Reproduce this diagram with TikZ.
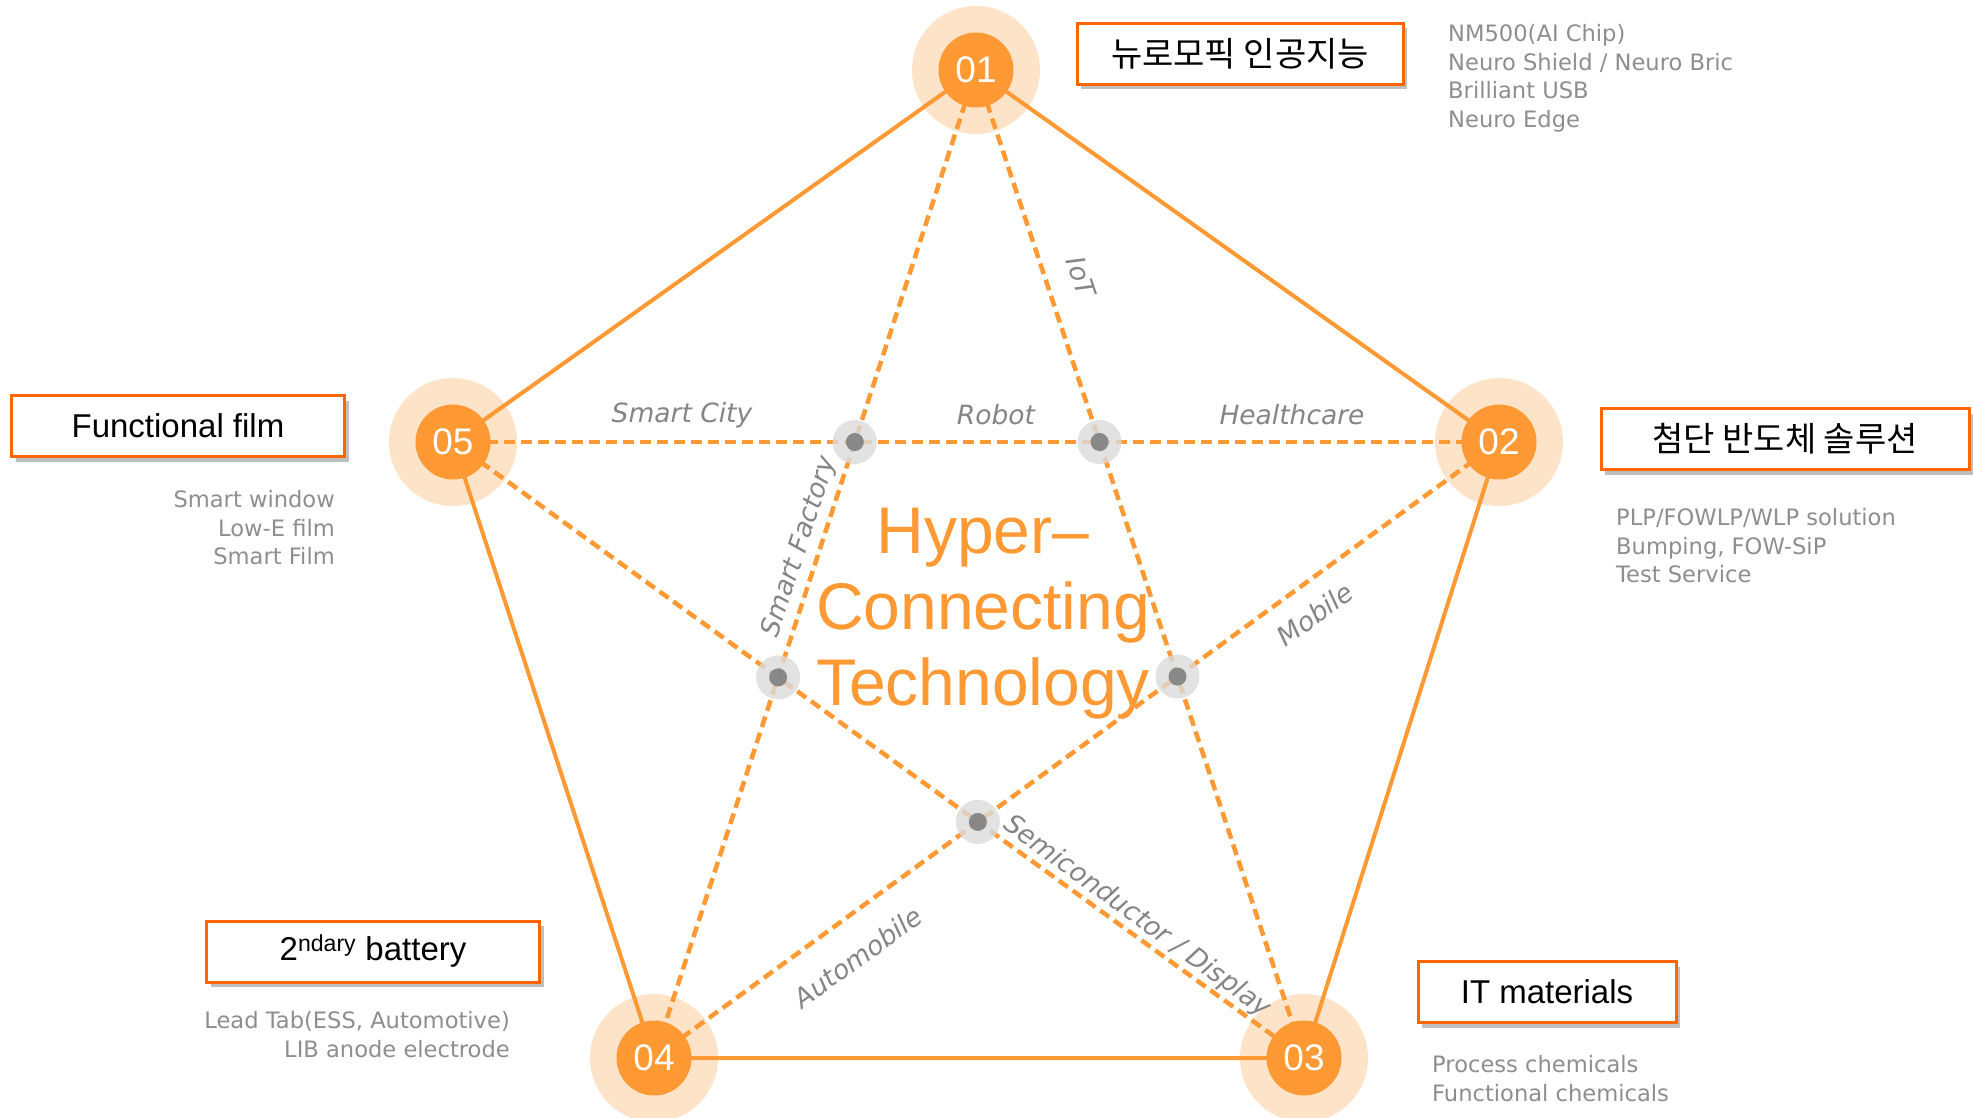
\documentclass[tikz,border=0pt]{standalone}
\usepackage{fontspec}
\setmainfont{Liberation Sans}
\newfontfamily\kr{Noto Sans CJK KR}
\newfontfamily\wide{DejaVu Sans}
\usetikzlibrary{shadows}
\definecolor{hcorange}{HTML}{FF9933}
\definecolor{hcpeach}{HTML}{FDE3C8}
\definecolor{hcframe}{HTML}{FF6600}
\definecolor{hcgray}{HTML}{858585}
\definecolor{hcdesc}{HTML}{8E8E8E}
\begin{document}
\begin{tikzpicture}[x=1pt,y=-1pt,
	edge/.style={hcorange,line width=4pt},
	link/.style={hcorange,line width=4.5pt,dash pattern=on 11pt off 6pt},
	num/.style={circle,fill=hcorange,text=white,minimum size=75pt,inner sep=0pt,font=\fontsize{37}{37}\selectfont},
	hubhalo/.style={fill=gray!28,opacity=.8},
	hubdot/.style={fill=black!50,opacity=.9},
	lbl/.style={text=hcgray,inner sep=0pt,font=\wide\itshape\fontsize{26.5}{26.5}\selectfont},
	box/.style={draw=hcframe,line width=3pt,fill=white,inner sep=0pt,minimum height=61pt,
		drop shadow={shadow xshift=4pt,shadow yshift=-5pt,opacity=.25,fill=black}},
	boxtext/.style={font=\fontsize{33}{33}\selectfont},
	krtext/.style={font=\kr\fontsize{34}{34}\selectfont},
	desc/.style={text=hcdesc,inner sep=0pt,font=\wide\fontsize{22.6}{28.7}\selectfont}]
	\fill[white] (0,0) rectangle (1973,1117);
	\useasboundingbox (0,0) rectangle (1973,1117);
	
	% corners of the pentagon
	\coordinate (c1) at (976,70);
	\coordinate (c2) at (1499,442);
	\coordinate (c3) at (1304,1058);
	\coordinate (c4) at (654,1058);
	\coordinate (c5) at (453,442);
	
	\foreach \i in {1,...,5}
	{
		\fill[hcpeach] (c\i) circle (64pt);
	}
	
	\draw[edge] (c1) -- (c2) -- (c3) -- (c4) -- (c5) -- cycle;
	\draw[link] (c5) -- (c2);
	\draw[link] (c1) -- (c3);
	\draw[link] (c1) -- (c4);
	\draw[link] (c4) -- (c2);
	\draw[link] (c5) -- (c3);
	
	% crossings of the star
	\coordinate (iA) at (intersection of c5--c2 and c1--c4);
	\coordinate (iB) at (intersection of c5--c2 and c1--c3);
	\coordinate (iC) at (intersection of c5--c3 and c1--c4);
	\coordinate (iD) at (intersection of c4--c2 and c1--c3);
	\coordinate (iE) at (intersection of c5--c3 and c4--c2);
	\foreach \p in {iA,iB,iC,iD,iE}
	{
		\fill[hubhalo] (\p) circle (22pt);
		\fill[hubdot] (\p) circle (9pt);
	}
	
	\foreach \i in {1,...,5}
	{
		\node[num] (n\i) at (c\i) {0\i};
	}
	
	\node[lbl] (smartcity) at (682,415) {Smart City};
	\node[lbl] (robot) at (996,415) {Robot};
	\node[lbl] (health) at (1292,415) {Healthcare};
	\node[lbl,rotate=-71.6] (iot) at (1081,277) {IoT};
	\node[lbl,rotate=72] (factory) at (800,547) {Smart Factory};
	\node[lbl,rotate=36] (mobile) at (1315,614) {Mobile};
	\node[lbl,rotate=36] (auto) at (858,957) {Automobile};
	\node[lbl,rotate=-36] (semi) at (1137,917) {Semiconductor / Display};
	
	\node[text=hcorange,align=center,inner sep=0pt,font=\fontsize{66}{76}\selectfont] (core) at (983,614) {Hyper–\\Connecting\\Technology};
	
	% boxes and their lists
	\node[box,minimum width=326pt,krtext] (b1) at (1240,53.5) {뉴로모픽 인공지능};
	\node[box,minimum width=368pt,krtext] (b2) at (1785,439) {첨단 반도체 솔루션};
	\node[box,minimum width=258pt,boxtext] (b3) at (1547,992) {IT materials};
	\node[box,minimum width=333pt,boxtext] (b4) at (373,951.5) {2\textsuperscript{ndary} battery};
	\node[box,minimum width=333pt,boxtext] (b5) at (178,426) {Functional film};
	
	\node[desc,align=left,anchor=north west] (d1) at (1448,24) {NM500(AI Chip)\\Neuro Shield / Neuro Bric\\Brilliant USB\\Neuro Edge};
	\node[desc,align=left,anchor=north west] (d2) at (1616,508) {PLP/FOWLP/WLP solution\\Bumping, FOW-SiP\\Test Service};
	\node[desc,align=left,anchor=north west] (d3) at (1432,1055.5) {Process chemicals\\Functional chemicals};
	\node[desc,align=right,anchor=north east] (d4) at (510,1011.5) {Lead Tab(ESS, Automotive)\\LIB anode electrode};
	\node[desc,align=right,anchor=north east] (d5) at (335,490) {Smart window\\Low-E film\\Smart Film};
\end{tikzpicture}
\end{document}
